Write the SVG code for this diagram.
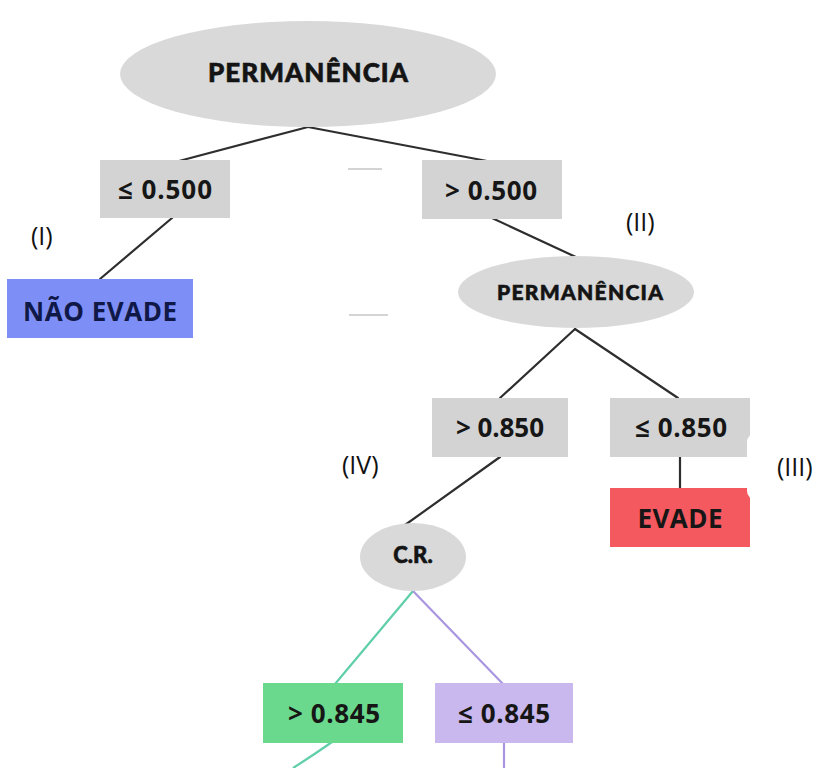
<svg xmlns="http://www.w3.org/2000/svg" width="816" height="768" viewBox="0 0 816 768">
  <style>
    .ell { fill: #d9d9d9; }
    .box { fill: #d3d3d3; }
    .title { font-family: Lato, "DejaVu Sans", sans-serif; font-weight: 900; fill: #141414; text-anchor: middle; stroke: #141414; stroke-width: 0.6; }
    .val { font-family: "Open Sans", "Liberation Sans", sans-serif; font-weight: 700; font-size: 26px; fill: #161616; text-anchor: middle; }
    .tag { font-family: "Open Sans", "Liberation Sans", sans-serif; font-size: 25px; fill: #111; }
    .edge { stroke: #2e2e2e; stroke-width: 2.2; fill: none; stroke-linecap: round; }
    .dash { stroke: #a0a0a0; stroke-width: 1.6; opacity: 0.6; }
  </style>
  <rect width="816" height="768" fill="#ffffff"/>

  <!-- connectors -->
  <g id="connectors">
    <line class="edge" x1="308" y1="127" x2="179" y2="161"/>
    <line class="edge" x1="308" y1="127" x2="487" y2="161"/>
    <line class="edge" x1="172" y1="218" x2="100" y2="279"/>
    <line class="edge" x1="492" y1="218" x2="578" y2="258"/>
    <line class="edge" x1="575" y1="329" x2="500" y2="398"/>
    <line class="edge" x1="575" y1="329" x2="678" y2="398"/>
    <line class="edge" x1="680" y1="457" x2="680" y2="488"/>
    <line class="edge" x1="500" y1="457" x2="398" y2="530"/>
    <line x1="413" y1="591" x2="335" y2="684" stroke="#5fcfa8" stroke-width="2.2"/>
    <line x1="413" y1="591" x2="503" y2="684" stroke="#a996e0" stroke-width="2.2"/>
    <path d="M332 742 Q312 756 293 768" stroke="#5fcfa8" stroke-width="2.2" fill="none"/>
    <line x1="504" y1="742" x2="504" y2="768" stroke="#a996e0" stroke-width="2.2"/>
  </g>

  <!-- stray marks -->
  <line class="dash" x1="348" y1="169" x2="382" y2="169"/>
  <line class="dash" x1="349" y1="315" x2="388" y2="315"/>

  <g id="root">
    <ellipse class="ell" cx="308" cy="74" rx="188" ry="53"/>
    <text class="title" x="308" y="82" font-size="26" textLength="200">PERMANÊNCIA</text>
  </g>

  <g id="le-0500">
    <rect class="box" x="100" y="160" width="130" height="58"/>
    <text class="val" x="165" y="199" textLength="94">≤ 0.500</text>
  </g>

  <g id="gt-0500">
    <rect class="box" x="422" y="160" width="140" height="59"/>
    <text class="val" x="491" y="200" textLength="92">&gt; 0.500</text>
  </g>

  <g id="nao-evade">
    <rect x="7" y="279" width="186" height="59" fill="#7d8ff6"/>
    <text class="val" x="100" y="321" textLength="154" style="fill:#101848">NÃO EVADE</text>
  </g>

  <g id="permanencia-2">
    <ellipse class="ell" cx="576" cy="292" rx="118" ry="36"/>
    <text class="title" x="580" y="300" font-size="21" textLength="166">PERMANÊNCIA</text>
  </g>

  <g id="gt-0850">
    <rect class="box" x="432" y="398" width="136" height="59"/>
    <text class="val" x="500" y="437" textLength="88">&gt; 0.850</text>
  </g>

  <g id="le-0850">
    <rect class="box" x="610" y="398" width="140" height="59"/>
    <text class="val" x="681" y="437" textLength="92">≤ 0.850</text>
  </g>

  <g id="evade">
    <rect x="610" y="488" width="140" height="59" fill="#f3595e"/>
    <text class="val" x="680" y="528" textLength="85">EVADE</text>
  </g>

  <!-- white panel over the right edge -->
  <rect x="747" y="433" width="90" height="67" rx="9" fill="#ffffff"/>

  <g id="cr">
    <ellipse class="ell" cx="413" cy="557" rx="53" ry="34"/>
    <text class="title" x="413" y="563" font-size="22">C.R.</text>
  </g>

  <g id="gt-0845">
    <rect x="263" y="683" width="140" height="60" fill="#6bd98d"/>
    <text class="val" x="334" y="723" textLength="92">&gt; 0.845</text>
  </g>

  <g id="le-0845">
    <rect x="435" y="683" width="138" height="60" fill="#c8b8ed"/>
    <text class="val" x="504" y="723" textLength="92">≤ 0.845</text>
  </g>

  <!-- branch tags -->
  <g id="tags">
    <text class="tag" x="31" y="245">(I)</text>
    <text class="tag" x="626" y="231">(II)</text>
    <text class="tag" x="777" y="476">(III)</text>
    <text class="tag" x="342" y="474">(IV)</text>
  </g>
</svg>
